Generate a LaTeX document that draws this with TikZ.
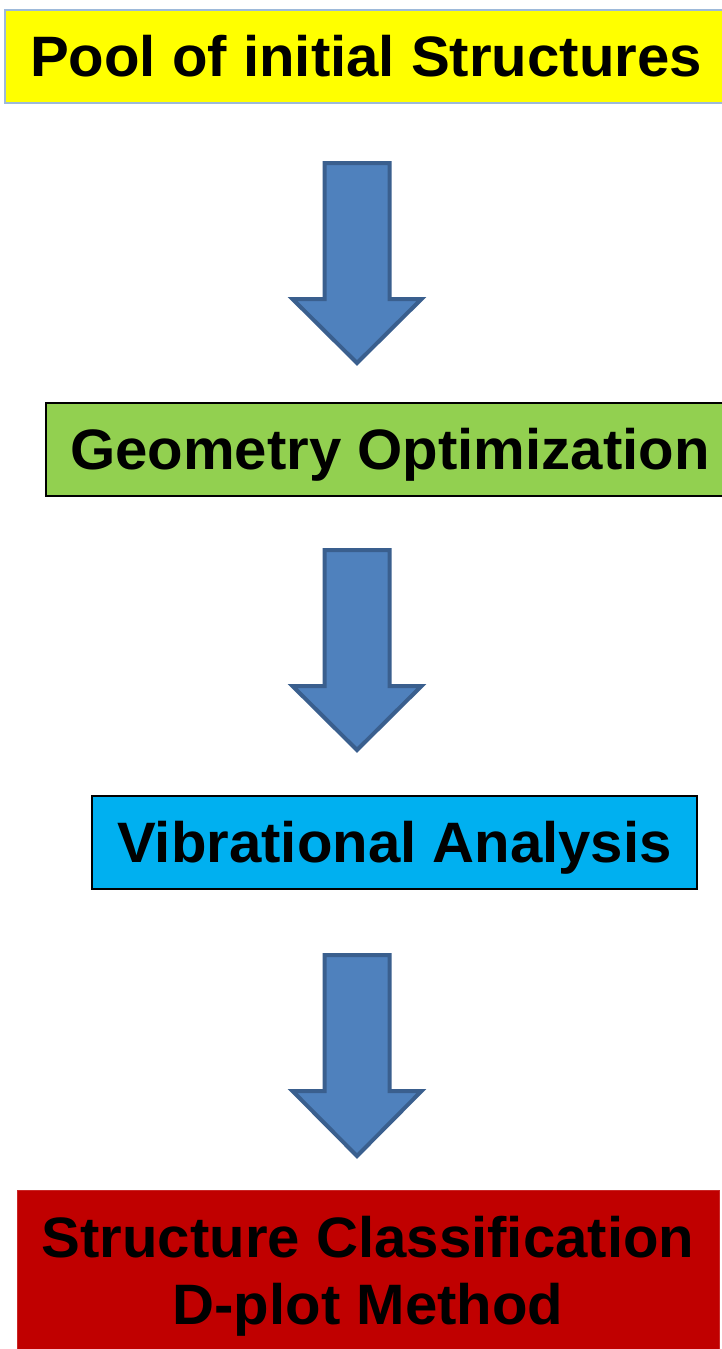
\documentclass[tikz,border=0pt]{standalone}
\usepackage{fontspec}
\newfontfamily\boxfont[FakeStretch=1.02]{Liberation Sans}
\definecolor{ylw}{HTML}{FFFF00}
\definecolor{grn}{HTML}{92D050}
\definecolor{cyn}{HTML}{00B0F0}
\definecolor{redd}{HTML}{C00000}
\definecolor{arrfill}{HTML}{4F81BD}
\definecolor{arrline}{HTML}{3A5F8E}
\definecolor{lightedge}{HTML}{9DB9DA}
\tikzset{
  boxtext/.style={font=\boxfont\bfseries\fontsize{57}{67}\selectfont},
  stagebox/.style={rectangle, minimum height=93pt, inner sep=0pt, line width=1.6pt, draw=black,
    boxtext, text height=40pt, text depth=0pt},
  barrow/.style={fill=arrfill, draw=arrline, line width=4pt, line join=miter}
}
\begin{document}
\begin{tikzpicture}[x=1pt,y=1pt]
\useasboundingbox (0,0) rectangle (721,-1349);
\fill[white] (0,0) rectangle (721,-1349);

\node[stagebox, fill=ylw, draw=lightedge, minimum width=722pt] (pool) at (366,-56.5) {Pool of initial Structures};
\node[stagebox, fill=grn, minimum width=688pt] (geo) at (390,-449.5) {Geometry Optimization};
\node[stagebox, fill=cyn, minimum width=605pt] (vib) at (394.5,-842.5) {Vibrational Analysis};
\node[rectangle, fill=redd, draw=redd!85!white, line width=0.8pt, minimum width=702pt, minimum height=162pt, inner sep=0pt] (cls) at (368,-1271) {};
\node[boxtext, anchor=base, inner sep=0pt] (clsA) at (368,-1257) {Structure Classification};
\node[boxtext, anchor=base, inner sep=0pt] (clsB) at (368,-1324) {D-plot Method};

% block arrows
\coordinate (a1) at (357,-163);
\coordinate (a2) at (357,-550);
\coordinate (a3) at (357,-955);
\foreach \c/\s/\t in {a1/136/200, a2/136/200, a3/136/201} {
  \draw[barrow] ([xshift=-32.5pt]\c) -- ([xshift=32.5pt]\c) -- ([xshift=32.5pt,yshift=-\s pt]\c)
    -- ([xshift=64.5pt,yshift=-\s pt]\c) -- ([yshift=-\t pt]\c) -- ([xshift=-64.5pt,yshift=-\s pt]\c)
    -- ([xshift=-32.5pt,yshift=-\s pt]\c) -- cycle;
}
\end{tikzpicture}
\end{document}
